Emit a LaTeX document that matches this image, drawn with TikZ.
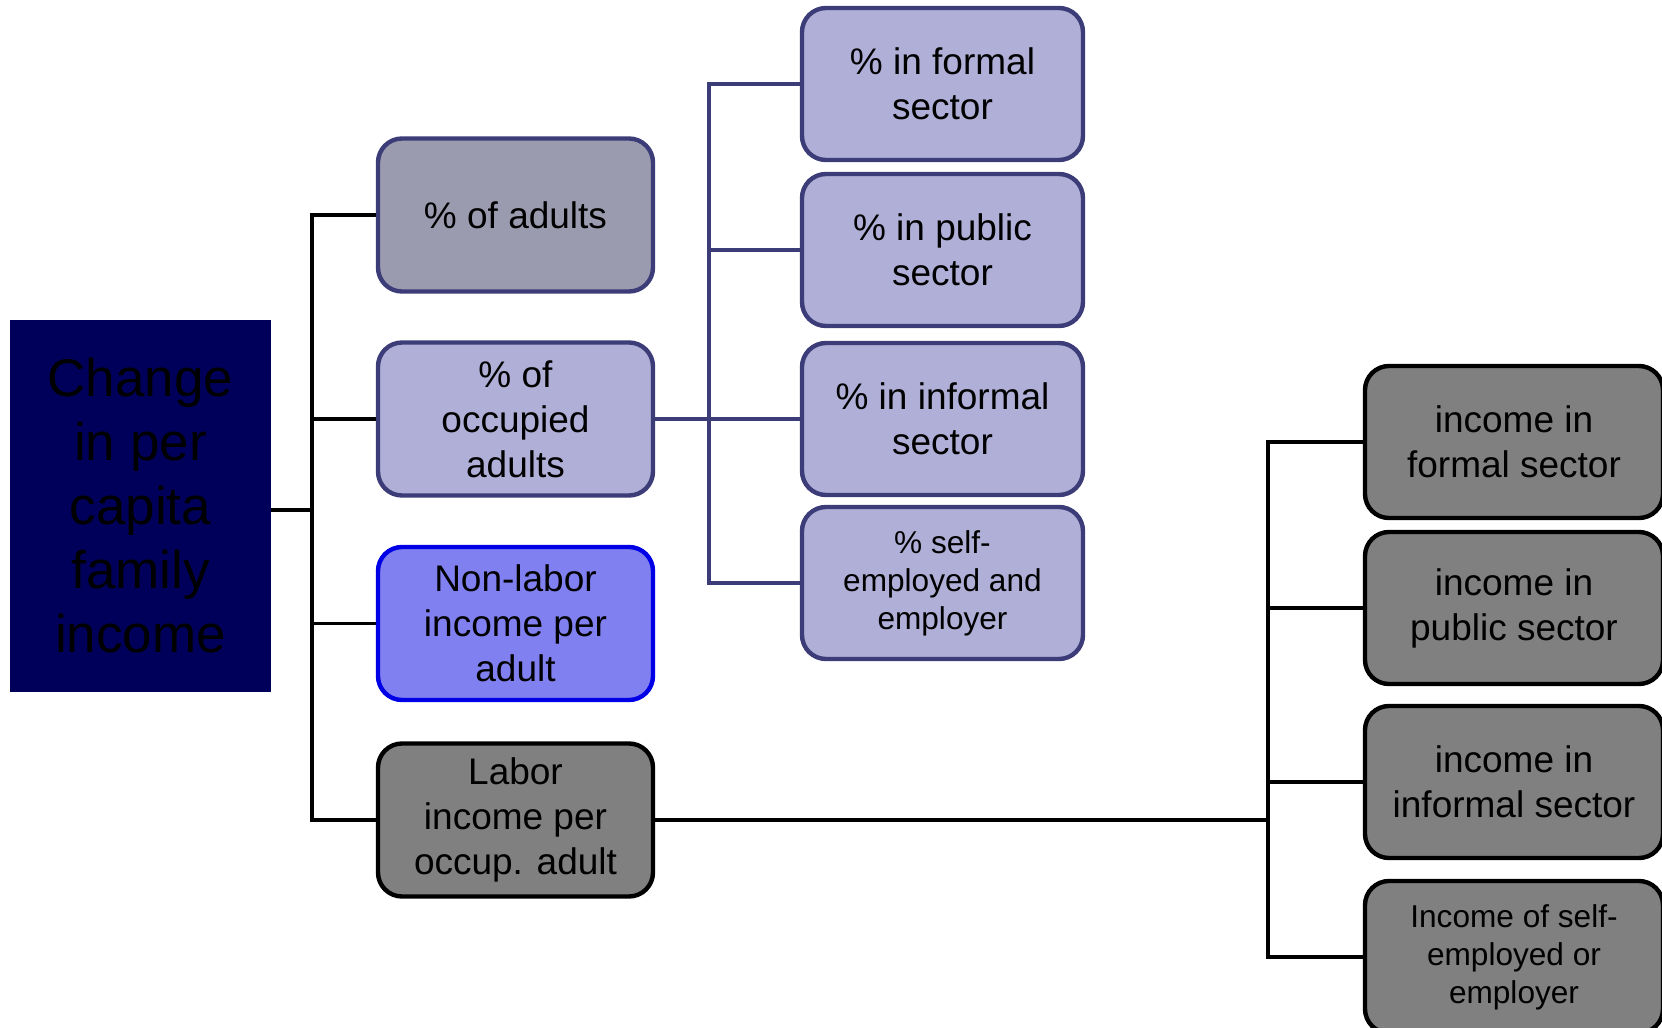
\documentclass[tikz,border=0pt]{standalone}
\usepackage{fontspec}
\setmainfont{Liberation Sans}
\usetikzlibrary{positioning}
\definecolor{rootnavy}{RGB}{0,0,90}
\definecolor{lavfill}{RGB}{175,175,215}
\definecolor{greylav}{RGB}{155,155,176}
\definecolor{lavline}{RGB}{60,60,120}
\definecolor{nonlabfill}{RGB}{128,128,240}
\definecolor{nonlabline}{RGB}{0,0,230}
\tikzset{
    x=0.5pt, y=-0.5pt, % one unit is one pixel of the slide, y runs down
    box/.style={rounded corners=12pt, line width=2.2pt, align=center, inner sep=0pt,
        font=\fontsize{18.5}{22.5}\selectfont},
    %levelone/.style: the four factors next to the root
    levelone/.style={box, minimum width=137.5pt, minimum height=76.5pt},
    sharebox/.style={box, draw=lavline, fill=lavfill, minimum width=140.5pt, minimum height=76pt},
    incomebox/.style={box, draw=black, fill=gray, minimum width=149pt, minimum height=76pt},
    small/.style={font=\fontsize{15.8}{19}\selectfont},
    link/.style={line width=1.6pt},
}
\begin{document}
\begin{tikzpicture}
  \useasboundingbox (0,0) rectangle (1662,1028);

  % root
  \node[fill=rootnavy, minimum width=130.5pt, minimum height=186pt, inner sep=0pt, align=center,
      font=\fontsize{26.5}{32}\selectfont] (root) at (140.5,506)
      {Change\\in per\\capita\\family\\income};

  % first level
  \node[levelone, draw=lavline, fill=greylav] (adults) at (515.5,215) {\% of adults};
  \node[levelone, draw=lavline, fill=lavfill] (occup) at (515.5,419) {\% of\\occupied\\adults};
  \node[levelone, draw=nonlabline, fill=nonlabfill] (nonlab) at (515.5,623.5) {Non-labor\\income per\\adult};
  \node[levelone, draw=black, fill=gray] (labor) at (515.5,820) {Labor\\income per\\occup. adult};

  % shares of occupied adults
  \node[sharebox] (formal) at (942.5,84) {\% in formal\\sector};
  \node[sharebox] (public) at (942.5,250) {\% in public\\sector};
  \node[sharebox] (informal) at (942.5,419) {\% in informal\\sector};
  \node[sharebox, small] (selfemp) at (942.5,583) {\% self-\\employed and\\employer};

  % labor income by sector
  \node[incomebox] (incformal) at (1514,442) {income in\\formal sector};
  \node[incomebox] (incpublic) at (1514,608) {income in\\public sector};
  \node[incomebox] (incinformal) at (1514,782) {income in\\informal sector};
  \node[incomebox, small] (incself) at (1514,957) {Income of self-\\employed or\\employer};

  \coordinate (trunkA) at (312,510);
  \coordinate (trunkB) at (709,419);
  \coordinate (trunkC) at (1268,820);

  \draw[link] (root.east |- trunkA) -- (trunkA);
  \foreach \n in {adults,occup,nonlab,labor}
    \draw[link] (trunkA) |- (\n.west);

  \draw[link, lavline] (occup.east) -- (trunkB);
  \foreach \n in {formal,public,informal,selfemp}
    \draw[link, lavline] (trunkB) |- (\n.west);

  \draw[link] (labor.east) -- (trunkC);
  \foreach \n in {incformal,incpublic,incinformal,incself}
    \draw[link] (trunkC) |- (\n.west);
\end{tikzpicture}
\end{document}
